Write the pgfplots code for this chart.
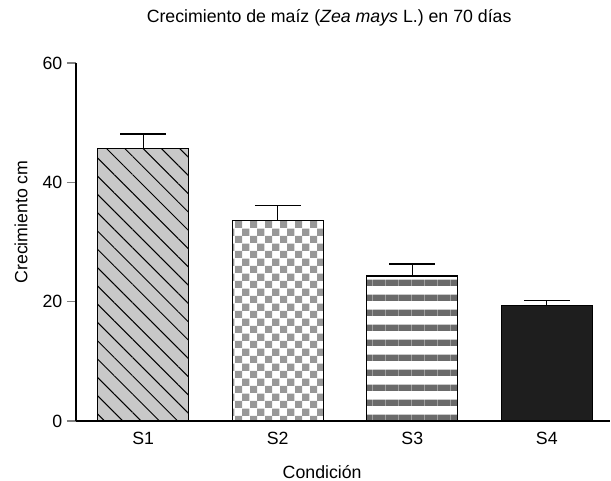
\documentclass[border=0pt]{standalone}
\usepackage{pgfplots}
\pgfplotsset{compat=1.18}
\usepackage{fontspec}
\setmainfont{Liberation Sans}
\usetikzlibrary{patterns,patterns.meta}
\definecolor{sonegray}{HTML}{C8C8C8}
\definecolor{stwogray}{HTML}{989898}
\definecolor{sthreegray}{HTML}{6A6A6A}
\definecolor{sfourgray}{HTML}{1E1E1E}
\pgfdeclarepattern{
  name=checker,
  type=uncolored,
  bottom left={\pgfpoint{0pt}{0pt}},
  top right={\pgfpoint{11pt}{11pt}},
  tile size={\pgfpoint{11pt}{11pt}},
  code={
    \pgfpathrectangle{\pgfpointorigin}{\pgfpoint{5.5pt}{5.5pt}}
    \pgfpathrectangle{\pgfpoint{5.5pt}{5.5pt}}{\pgfpoint{5.5pt}{5.5pt}}
    \pgfusepath{fill}
  }
}
\pgfdeclarepattern{
  name=hstripes,
  type=uncolored,
  bottom left={\pgfpoint{0pt}{0pt}},
  top right={\pgfpoint{10pt}{11.25pt}},
  tile size={\pgfpoint{10pt}{11.25pt}},
  code={
    \pgfpathrectangle{\pgfpointorigin}{\pgfpoint{10pt}{5pt}}
    \pgfusepath{fill}
  }
}
\begin{document}
\begin{tikzpicture}
\begin{axis}[
  scale only axis,
  width=400.5pt, height=268.5pt,
  xmin=-0.5, xmax=3.47,
  ymin=0, ymax=60,
  axis x line*=bottom, axis y line*=left,
  axis line style={-, line width=0.8pt},
  xtick={0,1,2,3},
  xticklabels={S1,S2,S3,S4},
  xtick style={draw=none},
  ytick={0,20,40,60},
  ytick style={line width=0.8pt},
  tick align=outside,
  major tick length=6.75pt,
  font=\fontsize{13.3}{16}\selectfont,
  /pgf/number format/assume math mode=true,
  xticklabel style={anchor=center, yshift=-6.25pt},
  title={Crecimiento de maíz (\textit{Zea mays} L.) en 70 días},
  title style={at={(axis description cs:0.474,1)}, anchor=center, yshift=27.75pt},
  xlabel={Condición},
  xlabel style={at={(axis description cs:0.461,0)}, anchor=center, yshift=-38pt},
  ylabel={Crecimiento cm},
  ylabel style={at={(axis description cs:0,0.556)}, anchor=center, rotate=0, yshift=41.25pt},
]
\addplot[ybar, bar width=68.25pt, bar shift=0pt, draw=black, line width=0.8pt, fill=sonegray,
  postaction={pattern={Lines[angle=-45, distance=9.7pt, line width=0.75pt]}, pattern color=black}]
  coordinates {(0,45.6)};
\addplot[ybar, bar width=68.25pt, bar shift=0pt, draw=black, line width=0.8pt, fill=white,
  postaction={pattern=checker, pattern color=stwogray}]
  coordinates {(1,33.6)};
\addplot[ybar, bar width=68.25pt, bar shift=0pt, draw=black, line width=0.8pt, fill=white,
  postaction={pattern=hstripes, pattern color=sthreegray}]
  coordinates {(2,24.3)};
\addplot[ybar, bar width=68.25pt, bar shift=0pt, draw=black, line width=0.8pt, fill=sfourgray]
  coordinates {(3,19.3)};
\addplot[forget plot, draw=none, mark=none,
  error bars/.cd, y dir=plus, y explicit,
  error bar style={draw=black, line width=1pt},
  error mark options={draw=black, rotate=90, mark size=17.25pt, line width=1pt}]
  coordinates {(0,45.6) +- (0,2.5) (1,33.6) +- (0,2.5) (2,24.3) +- (0,2.0) (3,19.3) +- (0,0.85)};
\end{axis}
\pgfresetboundingbox
\path[use as bounding box] (-57pt,-45pt) rectangle (401.25pt,315.75pt);
\end{tikzpicture}
\end{document}
